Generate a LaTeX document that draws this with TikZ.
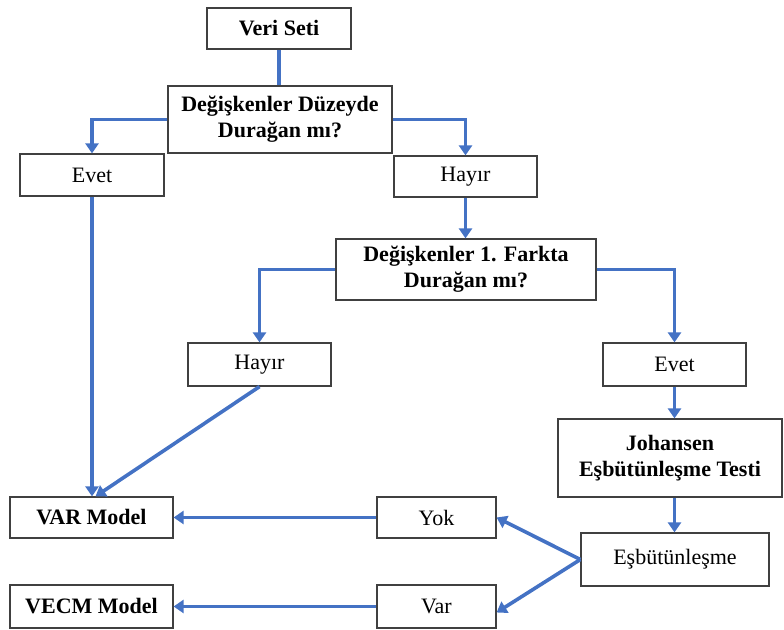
\documentclass[tikz,border=0pt]{standalone}
\usepackage{fontspec}
\setmainfont{Liberation Serif}
\usetikzlibrary{arrows.meta}
\definecolor{flow}{RGB}{68,114,196}

\begin{document}
\begin{tikzpicture}[x=0.5pt,y=-0.5pt,
  box/.style={draw=black!75,line width=0.6pt,fill=white,inner sep=0pt,font=\fontsize{11}{13}\selectfont,align=center},
  bbox/.style={box,font=\fontsize{11}{13}\selectfont\bfseries},
  arr/.style={flow,line width=1.8pt,-{Triangle[width=6.5pt,length=5pt]}}]
\useasboundingbox (0,0) rectangle (784,630);
% kutular
\node[bbox,minimum width=72pt,minimum height=20.5pt] (veri) at (279,28.5) {Veri Seti};
\node[bbox,minimum width=112pt,minimum height=33.5pt] (duz) at (280,119.5) {Değişkenler Düzeyde\\Durağan mı?};
\node[box,minimum width=72pt,minimum height=21pt] (ev1) at (92,175) {Evet};
\node[box,minimum width=71.5pt,minimum height=20.5pt] (hay1) at (465.5,176.5) {Hayır};
\node[bbox,minimum width=130pt,minimum height=30.5pt] (fark) at (466,269.5) {Değişkenler 1. Farkta\\Durağan mı?};
\node[box,minimum width=71.5pt,minimum height=21.5pt] (hay2) at (259.5,364.5) {Hayır};
\node[box,minimum width=71.5pt,minimum height=21.5pt] (ev2) at (674.5,364.5) {Evet};
\node[bbox,minimum width=112pt,minimum height=39pt] (joh) at (670,458) {Johansen\\Eşbütünleşme Testi};
\node[bbox,minimum width=81.5pt,minimum height=20.5pt] (var) at (91.5,517.5) {VAR Model};
\node[bbox,minimum width=81.5pt,minimum height=21.5pt] (vecm) at (91.5,606.5) {VECM Model};
\node[box,minimum width=59.5pt,minimum height=20.5pt] (yok) at (436.5,517.5) {Yok};
\node[box,minimum width=59.5pt,minimum height=21.5pt] (vr) at (436.5,606.5) {Var};
\node[box,minimum width=94pt,minimum height=26.5pt] (esb) at (675,559.5) {Eşbütünleşme};
% oklar
\draw[flow,line width=1.8pt] (veri) -- (veri |- duz.north);
\draw[arr] (duz.west) -| (ev1.north);
\draw[arr] (duz.east) -| (hay1.north);
\draw[arr] (hay1) -- (hay1 |- fark.north);
\draw[arr] (fark.west) -| (hay2.north);
\draw[arr] (fark.east) -| (ev2.north);
\draw[arr] (ev2) -- (ev2 |- joh.north);
\draw[arr] (joh.south -| ev2) -- (esb.north -| ev2);
\draw[arr] (ev1) -- (ev1 |- var.north);
\draw[arr] (hay2.south) -- ([xshift=2pt]var.north);
\draw[arr] (yok) -- (var);
\draw[arr] (vr) -- (vecm);
\draw[arr] (esb.west) -- (yok.east);
\draw[arr] (esb.west) -- ([yshift=-3pt]vr.east);
\end{tikzpicture}
\end{document}
